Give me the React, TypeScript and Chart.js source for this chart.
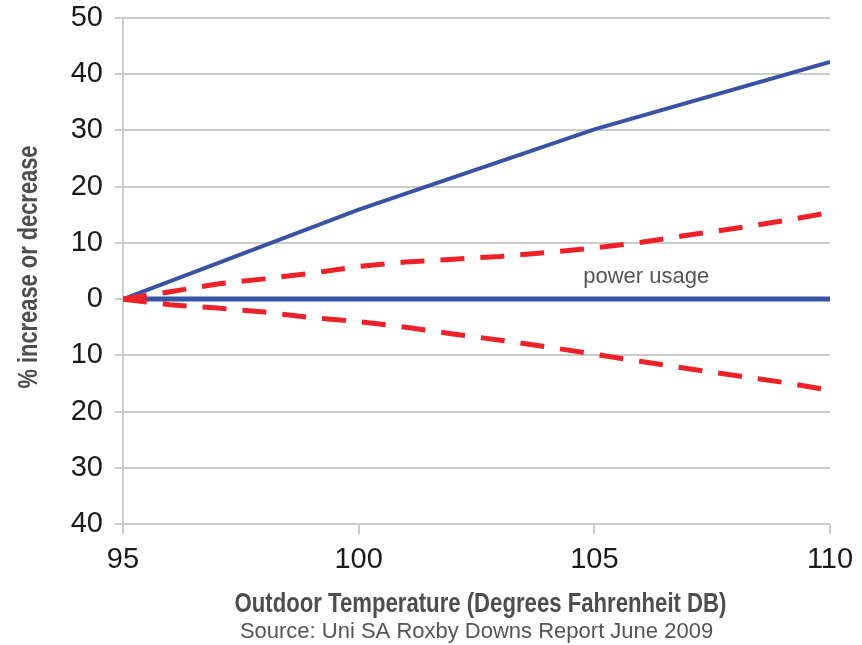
import { useEffect, useRef } from "react";
import { Chart, registerables } from "chart.js";

Chart.register(...registerables);

// ---- data ----
const temperatures = [95, 96, 97, 98, 99, 100, 101, 102, 103, 104, 105, 106, 107, 108, 109, 110];
const upperRange = [0, 1.3, 2.7, 3.6, 4.6, 5.8, 6.6, 7.1, 7.6, 8.3, 9.1, 10.1, 11.4, 12.6, 13.9, 15.4];
const lowerRange = [0, -1.0, -1.6, -2.3, -3.3, -4.0, -5.0, -6.2, -7.3, -8.5, -9.8, -11.1, -12.4, -13.6, -14.8, -16.2];

const increaseTemps = [95, 100, 105, 110];
const increaseValues = [0, 15.9, 30.2, 42.2];

const powerTemps = [95, 110];
const powerValues = [0, 0];

const xTickValues = [95, 100, 105, 110];
const yMin = -40;
const yMax = 50;
const yStep = 10;

const xTitle = "Outdoor Temperature (Degrees Fahrenheit DB)";
const yTitle = "% increase or decrease";
const sourceText = "Source: Uni SA Roxby Downs Report June 2009";
const powerLabel = { text: "power usage", x: 106.1, y: 2.95 };

const BLUE = "#3953a4";
const RED = "#ee2028";
const GRID = "#cccccc";
const SANS = '"Liberation Sans", Arial, sans-serif';
const NARROW_BOLD = 'bold 27px "Liberation Sans Narrow", "Liberation Sans", Arial, sans-serif';

const toPoints = (xs: number[], ys: number[]) => xs.map((x, i) => ({ x, y: ys[i] }));

const textPlugin = {
  id: "customTexts",
  afterDraw(chart: any) {
    const { ctx, chartArea, scales } = chart;
    ctx.save();
    // axis titles
    ctx.fillStyle = "#4d4d4f";
    ctx.font = NARROW_BOLD;
    ctx.textAlign = "center";
    ctx.textBaseline = "alphabetic";
    ctx.fillText(xTitle, (chartArea.left + chartArea.right) / 2 + 4, chartArea.bottom + 88, 492);
    ctx.save();
    ctx.translate(chartArea.left - 86, (chartArea.top + chartArea.bottom) / 2 - 4);
    ctx.rotate(-Math.PI / 2);
    ctx.fillText(yTitle, 0, 0, 243);
    ctx.restore();
    // in-chart label
    ctx.fillStyle = "#555555";
    ctx.font = "22px " + SANS;
    ctx.textAlign = "center";
    ctx.fillText(powerLabel.text, scales.x.getPixelForValue(powerLabel.x), scales.y.getPixelForValue(powerLabel.y));
    ctx.restore();
  },
};

export default function App() {
  const canvasRef = useRef<HTMLCanvasElement | null>(null);

  useEffect(() => {
    if (!canvasRef.current) return;
    const chart = new Chart(canvasRef.current, {
      type: "line",
      data: {
        datasets: [
          {
            label: "Upper range",
            data: toPoints(temperatures, upperRange),
            borderColor: RED,
            borderWidth: 5,
            borderDash: [24, 16],
            pointRadius: 0,
            tension: 0,
            fill: false,
          },
          {
            label: "Lower range",
            data: toPoints(temperatures, lowerRange),
            borderColor: RED,
            borderWidth: 5,
            borderDash: [24, 16],
            pointRadius: 0,
            tension: 0,
            fill: false,
          },
          {
            label: "Increase",
            data: toPoints(increaseTemps, increaseValues),
            borderColor: BLUE,
            borderWidth: 4,
            pointRadius: 0,
            tension: 0,
            fill: false,
          },
          {
            label: "Power usage",
            data: toPoints(powerTemps, powerValues),
            borderColor: BLUE,
            borderWidth: 5,
            pointRadius: 0,
            tension: 0,
            fill: false,
          },
        ],
      },
      options: {
        animation: false,
        responsive: true,
        maintainAspectRatio: false,
        layout: { padding: { top: 18, right: 32, left: 0, bottom: 0 } },
        plugins: {
          legend: { display: false },
          tooltip: { enabled: false },
          subtitle: {
            display: true,
            text: sourceText,
            position: "bottom",
            fullSize: false,
            align: "center",
            color: "#555555",
            font: { family: SANS, size: 22, lineHeight: 1.2, weight: "normal" },
            padding: { top: 0, bottom: 0 },
          },
        },
        scales: {
          x: {
            type: "linear",
            min: 95,
            max: 110,
            afterBuildTicks: (scale: any) => {
              scale.ticks = xTickValues.map((v) => ({ value: v }));
            },
            ticks: {
              color: "#1a1a1a",
              font: { family: SANS, size: 29 },
              padding: 9,
              maxRotation: 0,
            },
            grid: { drawOnChartArea: false, drawTicks: true, tickLength: 10, color: GRID, lineWidth: 2 },
            border: { display: false },
            afterFit: (scale: any) => {
              scale.height = 94.6;
              scale.paddingLeft = 0;
              scale.paddingRight = 0;
            },
          },
          y: {
            type: "linear",
            min: yMin,
            max: yMax,
            ticks: {
              stepSize: yStep,
              color: "#1a1a1a",
              font: { family: SANS, size: 29 },
              padding: 12,
              callback: (v: any) => String(Math.abs(Number(v))),
            },
            grid: { color: GRID, lineWidth: 2, tickLength: 8, drawTicks: true },
            border: { display: true, color: GRID, width: 2 },
            afterFit: (scale: any) => {
              scale.width = 123;
              scale.paddingTop = 0;
              scale.paddingBottom = 0;
            },
          },
        },
      },
      plugins: [textPlugin],
    } as any);
    return () => chart.destroy();
  }, []);

  return (
    <div style={{ position: "fixed", left: 0, top: 0, width: 862, height: 645, background: "#fff" }}>
      <canvas ref={canvasRef} />
    </div>
  );
}
